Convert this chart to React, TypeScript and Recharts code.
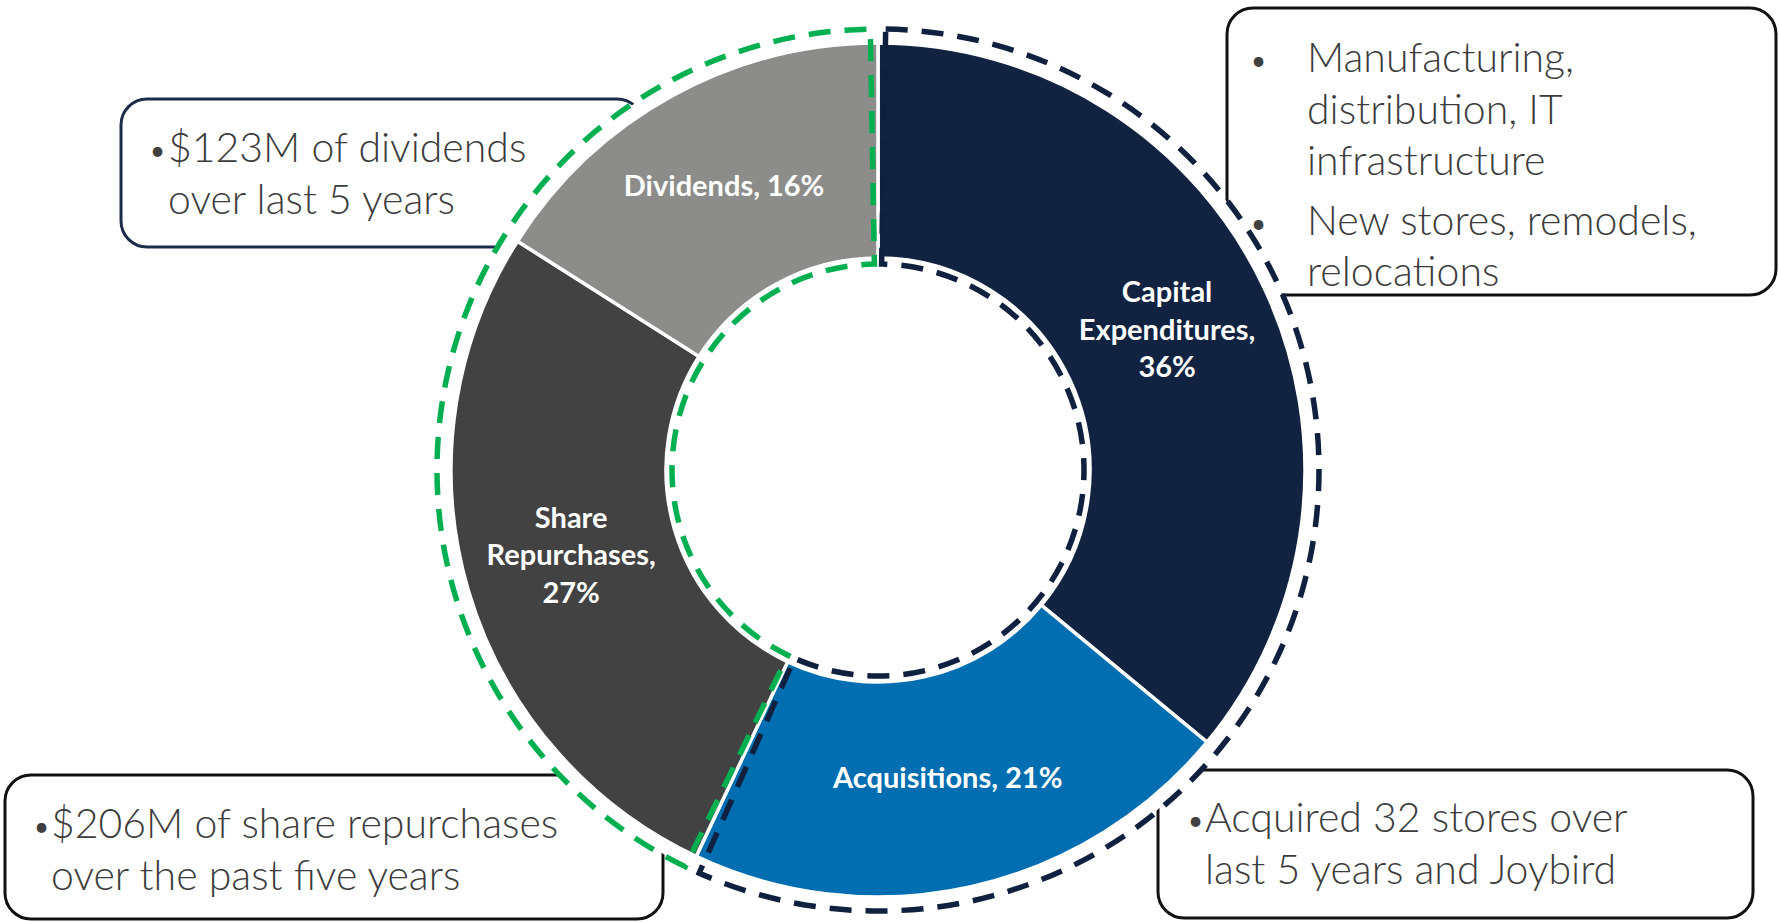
import React from "react";
import { PieChart, Pie, Cell } from "recharts";

const W = 1779;
const H = 922;

// slices, clockwise from 12 o'clock
const categories = ["Capital Expenditures", "Acquisitions", "Share Repurchases", "Dividends"];
const shares = [36, 21, 27, 16];
const wrapLabel = [true, false, true, false];

// dashed outlines: reinvestment vs. returned to shareholders
const groupNames = ["Reinvested", "Returned"];
const groupMembers = [
  [0, 1],
  [2, 3],
];

// callout texts (bullets -> lines)
const dividendNote = [["$123M of dividends", "over last 5 years"]];
const capexNote = [
  ["Manufacturing,", "distribution, IT", "infrastructure"],
  ["New stores, remodels,", "relocations"],
];
const buybackNote = [["$206M of share repurchases", "over the past five years"]];
const acquisitionNote = [["Acquired 32 stores over", "last 5 years and Joybird"]];

const sliceColors = ["#122342", "#006EB1", "#424242", "#8C8D8A"];
const groupColors = ["#10213F", "#00B050"];

const sliceData = categories.map((name, i) => ({ name, value: shares[i] }));
const groupData = groupNames.map((name, g) => ({
  name,
  value: groupMembers[g].reduce((s, i) => s + shares[i], 0),
}));
const labelLines = categories.map((name, i) => {
  if (!wrapLabel[i]) return [`${name}, ${shares[i]}%`];
  const words = name.split(" ");
  return [...words.slice(0, -1), `${words[words.length - 1]},`, `${shares[i]}%`];
});

const CX = 873;
const CY = 465;
const RADIAN = Math.PI / 180;
const PAD = 2;

const boxes = [
  { note: dividendNote, x: 121, y: 99, w: 522, h: 148, border: "#1C2B4A", bulletX: 150, textX: 168, base: 162 },
  { note: capexNote, x: 1227, y: 8, w: 549, h: 287, border: "#111", bulletX: 1251, textX: 1307, base: 72 },
  { note: buybackNote, x: 5, y: 775, w: 658, h: 144, border: "#111", bulletX: 34, textX: 51, base: 838 },
  { note: acquisitionNote, x: 1158, y: 770, w: 595, h: 148, border: "#111", bulletX: 1188, textX: 1205, base: 832 },
];
const LINE = 51.5;
const PARA = 8;

const renderLabel = (props: any) => {
  const { cx, cy, midAngle, innerRadius, outerRadius, index } = props;
  const r = (innerRadius + outerRadius) / 2;
  const x = cx + r * Math.cos(-midAngle * RADIAN);
  const y = cy + r * Math.sin(-midAngle * RADIAN) - 6;
  const lines = labelLines[index];
  const step = 37.5;
  return (
    <text
      x={x}
      y={y}
      textAnchor="middle"
      dominantBaseline="central"
      fill="#FFFFFF"
      fontFamily="Lato, 'Open Sans', sans-serif"
      fontWeight={700}
      fontSize={29}
    >
      {lines.map((l, i) => (
        <tspan key={i} x={x} y={y + (i - (lines.length - 1) / 2) * step}>
          {l}
        </tspan>
      ))}
    </text>
  );
};

const Callouts = () => (
  <svg width={W} height={H} style={{ position: "absolute", left: 0, top: 0 }}>
    {boxes.map((b, k) => {
      let yy = b.base;
      const items: React.ReactNode[] = [];
      b.note.forEach((para, p) => {
        if (p > 0) yy += PARA;
        items.push(
          <text key={`b${p}`} x={b.bulletX} y={yy - 2} fontSize={26} fill="#404040" fontFamily="Lato, sans-serif">
            •
          </text>
        );
        para.forEach((line, i) => {
          items.push(
            <text
              key={`t${p}-${i}`}
              x={b.textX}
              y={yy}
              fontSize={41}
              fill="#3C3C3C"
              fontFamily="'Lato Light', Lato, sans-serif"
              fontWeight={300}
            >
              {line}
            </text>
          );
          yy += LINE;
        });
      });
      return (
        <g key={k}>
          <rect x={b.x} y={b.y} width={b.w} height={b.h} rx={26} ry={26} fill="#FFFFFF" stroke={b.border} strokeWidth={3} />
          {items}
        </g>
      );
    })}
  </svg>
);

const ringCss = groupColors
  .map((c) => `path[stroke="${c}"]{stroke-width:5.5px !important;stroke-dasharray:22 14 !important;fill:none !important;}`)
  .join("\n");

export default function App() {
  return (
    <div style={{ position: "absolute", left: 0, top: 0, width: W, height: H, background: "#FFFFFF", overflow: "hidden" }}>
      <style>{ringCss}</style>
      <Callouts />
      <div style={{ position: "absolute", left: 0, top: 0 }}>
        <PieChart width={W} height={H}>
          {/* white disk that hides the callout borders under the ring */}
          <Pie
            data={[{ name: "bg", value: 1 }]}
            dataKey="value"
            cx={CX}
            cy={CY}
            innerRadius={0}
            outerRadius={440}
            startAngle={90}
            endAngle={-270}
            fill="#FFFFFF"
            stroke="none"
            isAnimationActive={false}
          />
          <Pie
            data={sliceData}
            dataKey="value"
            cx={CX}
            cy={CY}
            innerRadius={212}
            outerRadius={427}
            startAngle={90}
            endAngle={-270}
            stroke="#FFFFFF"
            strokeWidth={3.5}
            label={renderLabel}
            labelLine={false}
            isAnimationActive={false}
          >
            {sliceData.map((d, i) => (
              <Cell key={d.name} fill={sliceColors[i]} />
            ))}
          </Pie>
          <Pie
            data={groupData}
            dataKey="value"
            cx={CX}
            cy={CY}
            innerRadius={206}
            outerRadius={441}
            startAngle={90 - PAD / 2}
            endAngle={90 - PAD / 2 - 360}
            paddingAngle={PAD}
            fill="none"
            isAnimationActive={false}
          >
            {groupData.map((d, i) => (
              <Cell key={d.name} fill="none" stroke={groupColors[i]} strokeWidth={5.5} strokeDasharray="22 14" />
            ))}
          </Pie>
        </PieChart>
      </div>
    </div>
  );
}
